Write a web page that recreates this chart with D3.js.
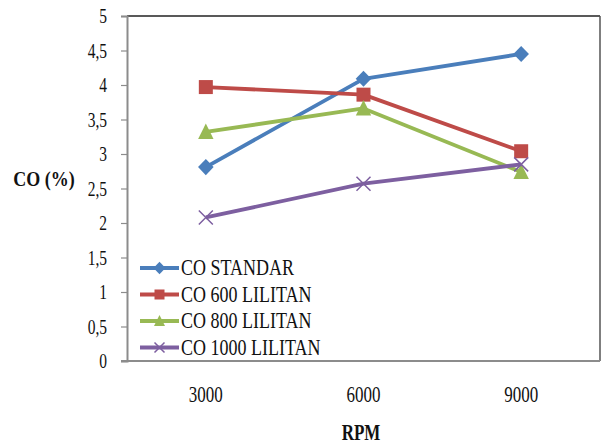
<!DOCTYPE html>
<html><head><meta charset="utf-8">
<script src="https://cdn.jsdelivr.net/npm/d3@7"></script>
<style>body{margin:0;background:#fff}svg{display:block}</style>
</head><body>
<script>
const categories = ["3000","6000","9000"];
const seriesNames = ["CO STANDAR","CO 600 LILITAN","CO 800 LILITAN","CO 1000 LILITAN"];
const coStandar = [2.81, 4.09, 4.45];
const co600 = [3.97, 3.86, 3.04];
const co800 = [3.32, 3.66, 2.74];
const co1000 = [2.08, 2.57, 2.85];
const yTicks = [0,0.5,1,1.5,2,2.5,3,3.5,4,4.5,5];
const colors = ["#4a7ebb","#be4b48","#98b954","#7d5fa0"];
const markers = ["diamond","square","triangle","x"];
const series = [coStandar, co600, co800, co1000];

const FONT = "Liberation Serif, Times New Roman, serif";
const W=603,H=443;
const L=127,R=600,T=16,B=361;
const svg=d3.select("body").append("svg").attr("width",W).attr("height",H);
const x=d3.scaleBand().domain(categories).range([L,R]);
const y=d3.scaleLinear().domain([0,5]).range([B,T]);

// stretch text vertically about its own centre (reference text is taller than wide)
function stretch(sel,k){
  sel.each(function(){
    const b=this.getBBox(); const cy=b.y+b.height/2;
    d3.select(this).attr("transform",`translate(0,${cy}) scale(1,${k}) translate(0,${-cy})`);
  });
}

// frame
svg.append("line").attr("x1",L).attr("x2",R).attr("y1",T).attr("y2",T).attr("stroke","#222").attr("stroke-width",1.5);
svg.append("line").attr("x1",R).attr("x2",R).attr("y1",T).attr("y2",B).attr("stroke","#555").attr("stroke-width",1.5);

// y axis
const ya=svg.append("g").attr("transform",`translate(${L},0)`)
  .call(d3.axisLeft(y).tickValues(yTicks).tickSize(6).tickPadding(14).tickFormat(d=>String(d).replace(".",",")));
ya.attr("font-family",null);
ya.select(".domain").attr("stroke","#8c8c8c").attr("stroke-width",2);
ya.selectAll(".tick line").attr("stroke","#8c8c8c").attr("stroke-width",1.2);
ya.selectAll("text").attr("font-family",FONT).attr("font-size",15.5).attr("fill","#111");
stretch(ya.selectAll("text"),1.3);

// x axis
const xa=svg.append("g").attr("transform",`translate(0,${B})`)
  .call(d3.axisBottom(x).tickSize(0).tickPadding(27));
xa.attr("font-family",null);
xa.select(".domain").attr("stroke","#8c8c8c").attr("stroke-width",2).attr("d",`M${L-6},0H${R}`);
xa.selectAll("text").attr("font-family",FONT).attr("font-size",17).attr("fill","#111");
stretch(xa.selectAll("text"),1.3);

// titles
const t1=svg.append("text").attr("x",44).attr("y",185).attr("text-anchor","middle").attr("font-family",FONT).attr("font-weight","bold").attr("font-size",18).attr("fill","#111").text("CO (%)");
stretch(t1,1.15);
const t2=svg.append("text").attr("x",361).attr("y",438).attr("text-anchor","middle").attr("font-family",FONT).attr("font-weight","bold").attr("font-size",17).attr("fill","#111").text("RPM");
stretch(t2,1.3);

function drawMarker(g,type,cx,cy,color,s){
  if(type==="diamond"){
    g.append("path").attr("d",`M${cx},${cy-s*0.62}L${cx+s*0.6},${cy}L${cx},${cy+s*0.62}L${cx-s*0.6},${cy}Z`).attr("fill",color);
  } else if(type==="square"){
    g.append("rect").attr("x",cx-s/2).attr("y",cy-s/2).attr("width",s).attr("height",s).attr("fill",color);
  } else if(type==="triangle"){
    g.append("path").attr("d",`M${cx},${cy-s*0.6}L${cx+s*0.55},${cy+s*0.5}L${cx-s*0.55},${cy+s*0.5}Z`).attr("fill",color);
  } else {
    const h=s*0.5;
    g.append("path").attr("d",`M${cx-h},${cy-h}L${cx+h},${cy+h}M${cx-h},${cy+h}L${cx+h},${cy-h}`).attr("stroke",color).attr("stroke-width",1.5).attr("fill","none");
  }
}

const line=d3.line().x((d,i)=>x(categories[i])+x.bandwidth()/2).y(d=>y(d));
const msize=[13,14,14,14];
series.forEach((s,k)=>{
  const g=svg.append("g");
  g.append("path").datum(s).attr("d",line).attr("fill","none").attr("stroke",colors[k]).attr("stroke-width",3.8).attr("stroke-linejoin","round");
  s.forEach((v,i)=>drawMarker(g,markers[k],x(categories[i])+x.bandwidth()/2,y(v),colors[k],msize[k]));
});

// legend
const lg=svg.append("g");
seriesNames.forEach((n,k)=>{
  const cy=268+k*26.5;
  lg.append("line").attr("x1",140).attr("x2",179).attr("y1",cy).attr("y2",cy).attr("stroke",colors[k]).attr("stroke-width",3.8);
  drawMarker(lg,markers[k],159.5,cy,colors[k],10);
  const t=lg.append("text").attr("x",181).attr("y",cy+6).attr("font-family",FONT).attr("font-size",18).attr("fill","#111").text(n);
  stretch(t,1.25);
});
</script>
</body></html>
